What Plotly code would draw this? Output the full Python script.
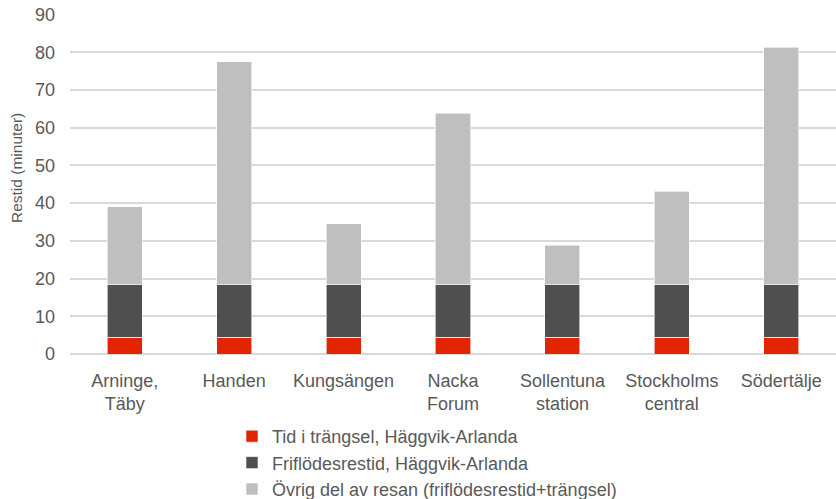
import plotly.graph_objects as go

categories = ["Arninge,<br>Täby", "Handen", "Kungsängen", "Nacka<br>Forum",
              "Sollentuna<br>station", "Stockholms<br>central", "Södertälje"]
trangsel = [4.5, 4.5, 4.5, 4.5, 4.5, 4.5, 4.5]
friflode = [13.8, 13.8, 13.8, 13.8, 13.8, 13.8, 13.8]
ovrig = [20.8, 59.2, 16.2, 45.5, 10.5, 24.9, 63.0]

names = ["Tid i trängsel, Häggvik-Arlanda",
         "Friflödesrestid, Häggvik-Arlanda",
         "Övrig del av resan (friflödesrestid+trängsel)"]
colors = ["#e32400", "#4f4f4f", "#bfbfbf"]

fig = go.Figure()
for vals, name, col in zip([trangsel, friflode, ovrig], names, colors):
    fig.add_trace(go.Bar(x=categories, y=vals, name=name,
                         marker=dict(color=col, line=dict(color="white", width=0.6))))

font_color = "#595959"
fig.update_layout(
    barmode="stack",
    bargap=0.68,
    width=836, height=499,
    margin=dict(l=70, r=0, t=14, b=145, autoexpand=False),
    plot_bgcolor="white", paper_bgcolor="white",
    font=dict(family="Liberation Sans, Arial, sans-serif", size=17, color=font_color),
    xaxis=dict(showgrid=False, showline=False, ticks="", automargin=False,
               ticklabelstandoff=14, tickfont=dict(size=18, color=font_color)),
    yaxis=dict(range=[0, 90.15], tickvals=[0, 10, 20, 30, 40, 50, 60, 70, 80, 90],
               showgrid=True, gridcolor="#d9d9d9", gridwidth=1.5,
               zeroline=True, zerolinecolor="#d9d9d9", zerolinewidth=1.5, automargin=False,
               ticklabelstandoff=14, ticklabeloverflow="allow",
               tickfont=dict(size=18, color=font_color)),
    legend=dict(orientation="v", x=(232 - 70) / 766, xanchor="left", y=(354 - 418) / 340, yanchor="top",
                traceorder="normal", font=dict(size=18, color=font_color), tracegroupgap=0),
    showlegend=True,
    annotations=[dict(text="Restid (minuter)", textangle=-90, xref="paper", yref="paper",
                      x=(17 - 70) / 766, y=(354 - 168) / 340, xanchor="center", yanchor="middle",
                      showarrow=False, font=dict(size=15.5, color=font_color))],
)
fig.write_html("out.html", config={"displayModeBar": False},
               post_script="document.body.style.margin='0';document.body.style.overflow='hidden';")
